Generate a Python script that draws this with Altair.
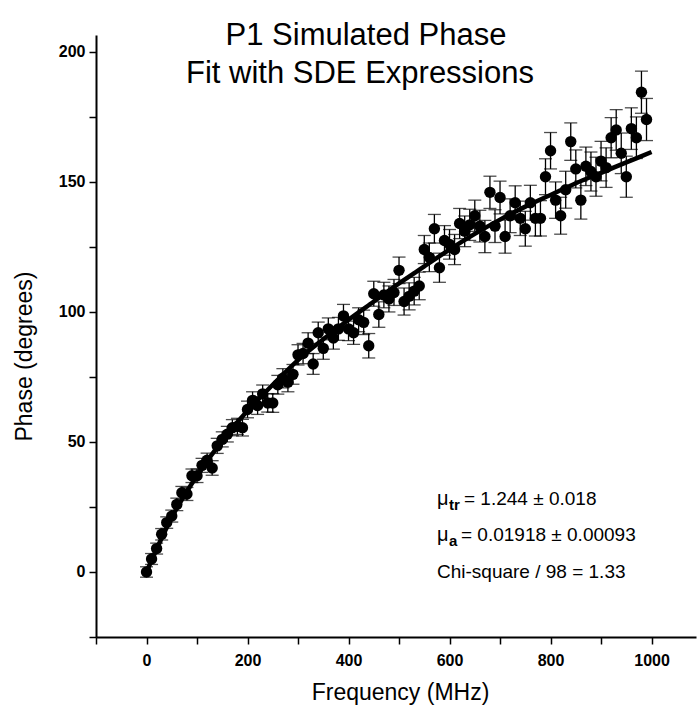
import altair as alt
import pandas as pd

# ---- data ----
freq = list(range(0, 1000, 10))
phase = [0, 5, 9, 14.5, 19, 21.5, 26, 30.5, 30, 37,
         37, 41, 43, 40, 48.5, 51, 53, 55.5, 56, 55.5,
         62.5, 66, 64, 68.5, 65, 65, 72, 74.5, 73, 76,
         83.5, 84, 88, 80, 92, 86, 93.5, 90, 93.5, 98.5,
         93.5, 92, 97, 96, 87, 107, 99, 106.5, 105, 107.5,
         116, 104, 106, 108, 110, 124, 121, 132, 117, 127.5,
         126, 124, 134, 131, 133.5, 137, 133, 129, 146, 133,
         144, 129, 137, 142, 136, 132, 142, 136, 136, 152,
         162, 143, 137, 147, 165.5, 155, 143, 156, 154, 152,
         158, 155.5, 167, 170, 161, 152, 170.5, 167, 184.5, 174]
err = [2.0, 2.1, 2.1, 2.2, 2.2, 2.3, 2.4, 2.4, 2.5, 2.6,
       2.6, 2.7, 2.7, 2.8, 2.9, 2.9, 3.0, 3.1, 3.1, 3.2,
       3.2, 3.3, 3.4, 3.4, 3.5, 3.6, 3.6, 3.7, 3.7, 3.8,
       3.9, 3.9, 4.0, 4.0, 4.1, 4.2, 4.2, 4.3, 4.4, 4.4,
       4.5, 4.5, 4.6, 4.7, 4.7, 4.8, 4.9, 4.9, 5.0, 5.0,
       5.1, 5.2, 5.2, 5.3, 5.3, 5.4, 5.5, 5.5, 5.6, 5.7,
       5.7, 5.8, 5.8, 5.9, 6.0, 6.0, 6.1, 6.2, 6.2, 6.3,
       6.3, 6.4, 6.5, 6.5, 6.6, 6.7, 6.7, 6.8, 6.8, 6.9,
       7.0, 7.0, 7.1, 7.1, 7.2, 7.3, 7.3, 7.4, 7.5, 7.5,
       7.6, 7.6, 7.7, 7.8, 7.8, 7.9, 8.0, 8.0, 8.1, 8.1]

fit_freq = [0, 50, 100, 150, 200, 250, 300, 350, 400, 450, 500,
            550, 600, 650, 700, 750, 800, 850, 900, 950, 1000]
fit_phase = [0, 21, 37, 50.5, 62, 72, 81.5, 89.5, 97, 104, 111,
             117.5, 124, 130, 135.5, 140.5, 145, 149.5, 153.5, 157.5, 161.5]

x_ticks = list(range(-100, 1101, 100))
y_ticks = list(range(-25, 201, 25))

title_lines = ["P1 Simulated Phase", "Fit with SDE Expressions"]
x_title = "Frequency (MHz)"
y_title = "Phase (degrees)"

pts = pd.DataFrame({"f": freq, "p": phase, "e": err})
fit = pd.DataFrame({"f": fit_freq, "p": fit_phase})

NARROW = "Liberation Sans Narrow, Arial Narrow, Liberation Sans, Arial, sans-serif"
SANS = "Liberation Sans, Arial, sans-serif"

xs = alt.Scale(domain=[-100, 1088], nice=False, zero=False)
ys = alt.Scale(domain=[-25, 206.5], nice=False, zero=False)

xax = alt.Axis(values=x_ticks, labelExpr="datum.value % 200 == 0 && datum.value >= 0 ? datum.value : ''",
               title=x_title, titleY=44, titleX=304)
yax = alt.Axis(values=y_ticks, labelExpr="datum.value % 50 == 0 ? datum.value : ''",
               title=y_title, titleX=-60, titleY=321)

base = alt.Chart(pts).transform_calculate(lo="datum.p - datum.e", hi="datum.p + datum.e")

bars = base.mark_rule(color="black", strokeWidth=1.3).encode(
    x=alt.X("f:Q", scale=xs, axis=xax),
    y=alt.Y("lo:Q", scale=ys, axis=yax),
    y2="hi:Q",
)
cap_lo = base.mark_tick(color="black", orient="horizontal", size=13, thickness=1.3).encode(
    x=alt.X("f:Q", scale=xs), y=alt.Y("lo:Q", scale=ys))
cap_hi = base.mark_tick(color="black", orient="horizontal", size=13, thickness=1.3).encode(
    x=alt.X("f:Q", scale=xs), y=alt.Y("hi:Q", scale=ys))
dots = base.mark_circle(color="black", opacity=1, size=130).encode(
    x=alt.X("f:Q", scale=xs), y=alt.Y("p:Q", scale=ys))
line = alt.Chart(fit).mark_line(color="black", strokeWidth=4.5, interpolate="monotone").encode(
    x=alt.X("f:Q", scale=xs), y=alt.Y("p:Q", scale=ys))


def txt(s, x, y, size, font=SANS, align="left", weight="normal"):
    return alt.Chart(pd.DataFrame({"t": [s]})).mark_text(
        font=font, fontSize=size, align=align, baseline="alphabetic", color="black",
        fontWeight=weight,
    ).encode(text="t:N", x=alt.value(x), y=alt.value(y))


texts = [
    txt(title_lines[0], 270, 10, 31, align="center"),
    txt(title_lines[1], 264, 48, 31, align="center"),
    txt("\u03bc", 341, 470, 20),
    txt("tr", 353, 475, 15, weight="bold"),
    txt("= 1.244 \u00b1 0.018", 368, 470, 19),
    txt("\u03bc", 341, 506, 20),
    txt("a", 353, 511, 15, weight="bold"),
    txt("= 0.01918 \u00b1 0.00093", 365, 506, 19),
    txt("Chi-square / 98 = 1.33", 341, 543, 19),
]

chart = alt.layer(bars, cap_lo, cap_hi, dots, line, *texts).properties(
    width=600, height=602,
    autosize=alt.AutoSizeParams(type="none"),
    padding={"left": 96, "top": 35, "right": 1, "bottom": 80},
).configure_view(stroke=None).configure_axis(
    grid=False, domainColor="black", domainWidth=2, tickColor="black", tickWidth=1.5,
    tickSize=7, labelFont=NARROW, labelFontWeight="bold", labelFontSize=16, labelColor="black",
    labelPadding=4, titleFont=SANS, titleFontSize=23, titleFontWeight="normal", titleColor="black",
).configure_axisX(labelPadding=8)

chart.save("out.html", embed_options={"renderer": "svg", "actions": False})
